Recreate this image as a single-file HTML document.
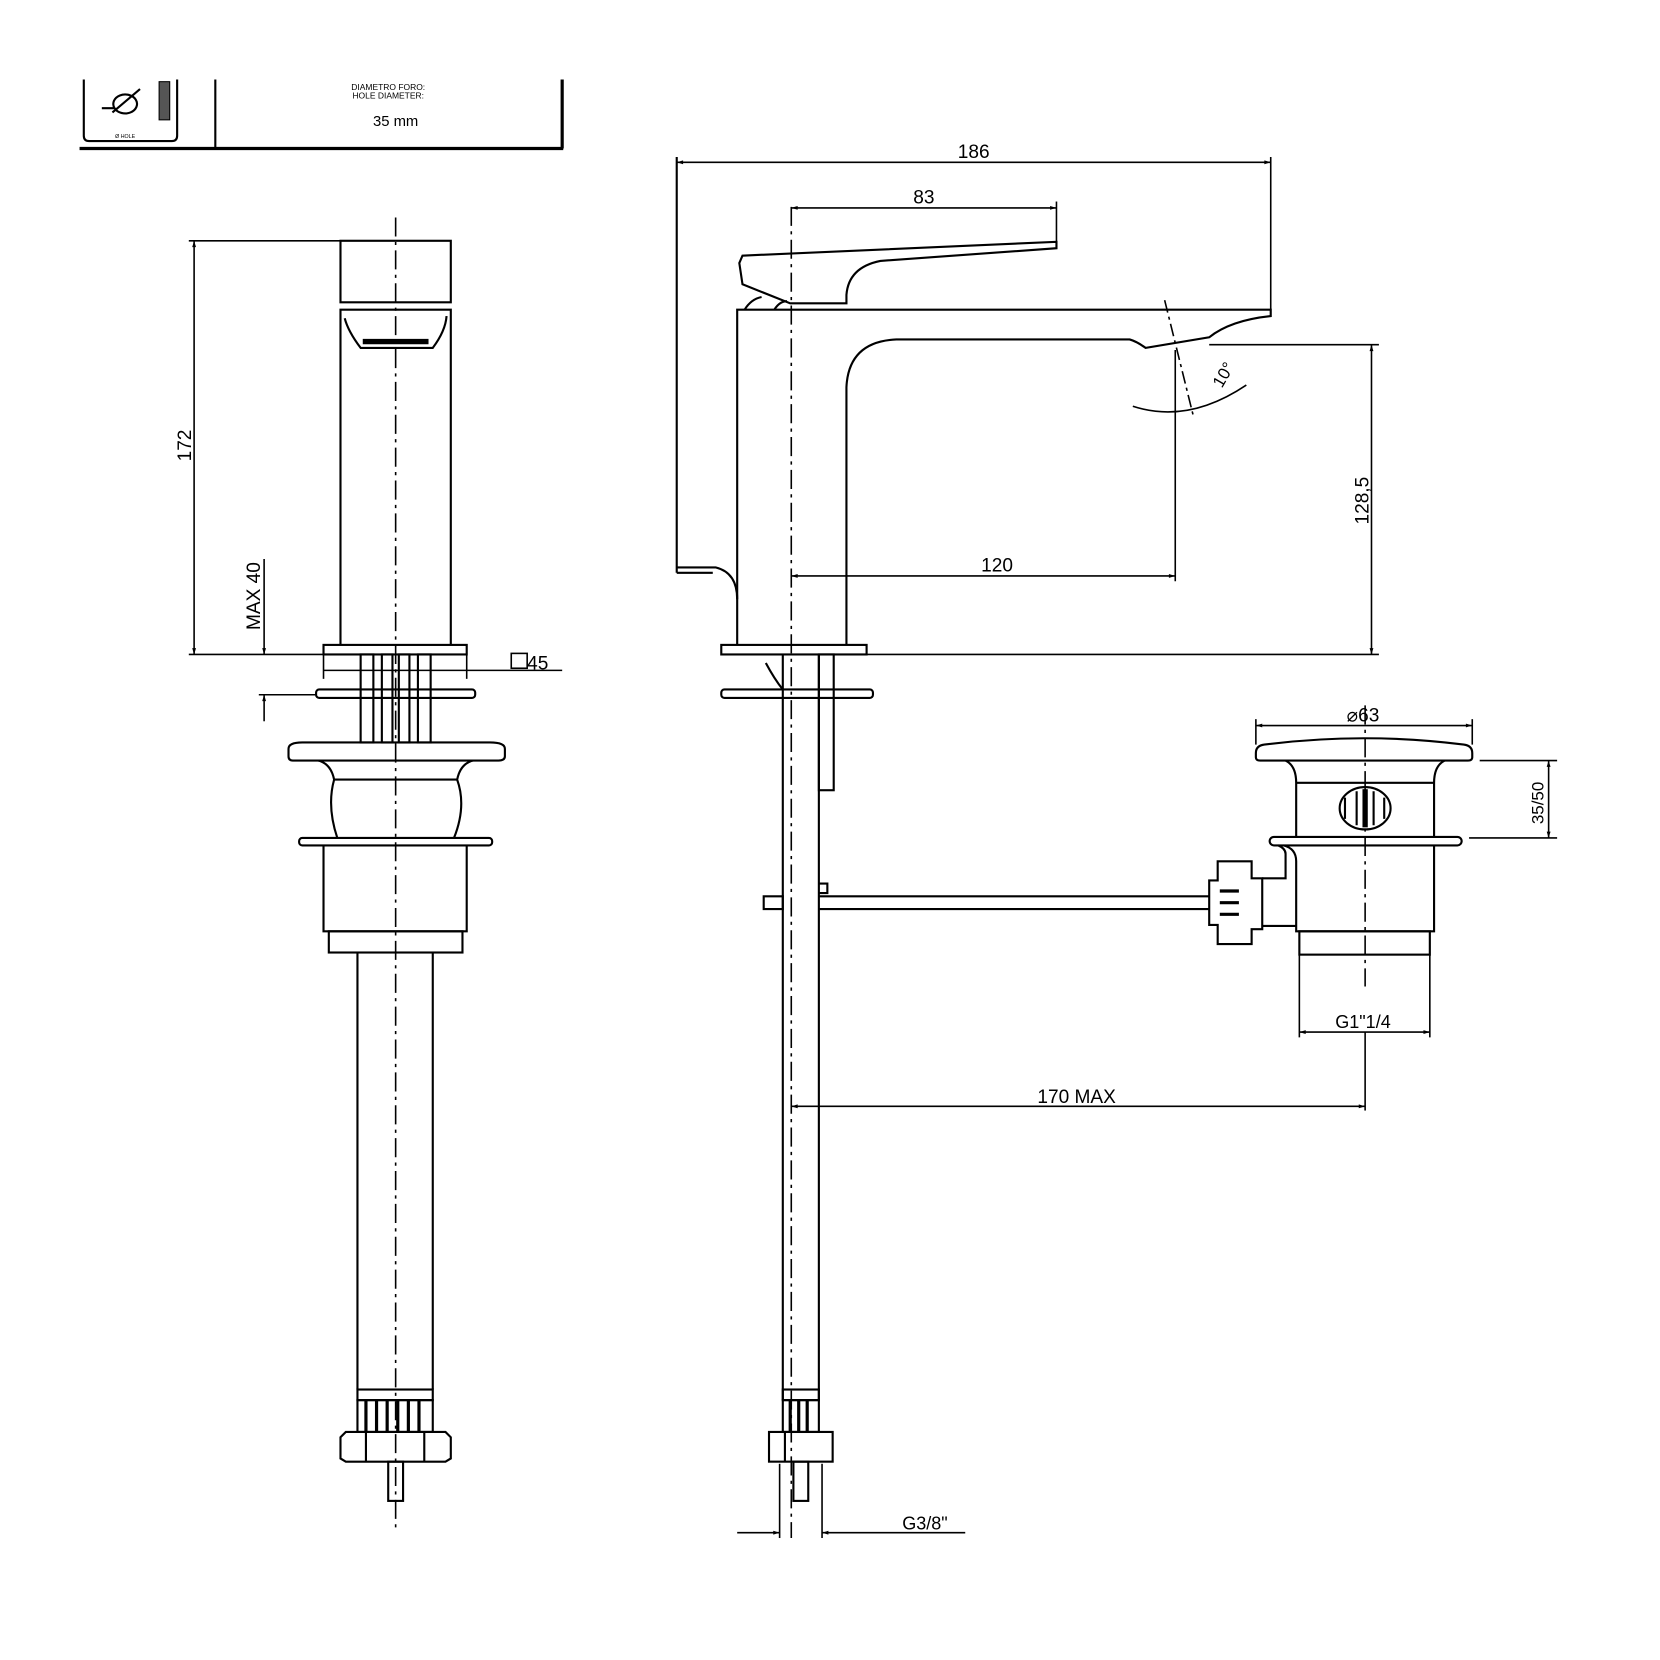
<!DOCTYPE html>
<html><head><meta charset="utf-8"><style>
html,body{margin:0;padding:0;background:#fff;}
svg{display:block;}
text{font-family:"Liberation Sans",sans-serif;fill:#000;}
</style></head><body>
<svg width="1660" height="1660" viewBox="0 0 1565 1565" xmlns="http://www.w3.org/2000/svg">
<defs>
<marker id="a" viewBox="0 0 10 10" refX="10" refY="5" markerWidth="12" markerHeight="6" orient="auto-start-reverse" markerUnits="userSpaceOnUse"><path d="M0,2 L10,5 L0,8 Z" fill="#000"/></marker>
</defs>
<g fill="none" stroke="#000" stroke-width="2">
<!-- title box -->
<path d="M79,75 V128 Q79,133 84,133 H162 Q167,133 167,128 V75"/>
<line x1="203" y1="75" x2="203" y2="140"/>
<line x1="75" y1="140" x2="531" y2="140" stroke-width="3"/>
<line x1="530" y1="75" x2="530" y2="140" stroke-width="3"/>
<rect x="150" y="77" width="10" height="36" fill="#555" stroke-width="1"/>
<path d="M96,102 H108 M108,102 a10,8 0 1 0 20,-8 a10,8 0 1 0 -20,8 M106,106 L132,84" stroke-width="2"/>

<!-- LEFT VIEW -->
<rect x="321" y="227" width="104" height="58"/>
<path d="M321,608 V292 H425 V608"/>
<path d="M325,300 Q328,312 340,328 H408 Q420,312 421,298"/>
<path d="M342,322 H404" stroke-width="5"/>
<rect x="305" y="608" width="135" height="9"/>
<rect x="340" y="617" width="12" height="83"/>
<rect x="360" y="617" width="10" height="83"/>
<rect x="376" y="617" width="10" height="83"/>
<rect x="394" y="617" width="12" height="83"/>
<rect x="298" y="650" width="150" height="8" rx="3"/>
<path d="M272,706 Q272,700 285,700 H462 Q476,700 476,706 V713 Q476,717 470,717 H276 Q272,717 272,713 Z"/>
<path d="M300,717 Q312,720 315,735 Q308,760 318,790 M446,717 Q434,720 431,735 Q440,760 428,790"/>
<line x1="315" y1="735" x2="431" y2="735"/>
<rect x="282" y="790" width="182" height="7" rx="3"/>
<path d="M305,797 V878 H440 V797"/>
<rect x="310" y="878" width="126" height="20"/>
<path d="M337,898 V1310 M408,898 V1310"/>
<rect x="337" y="1310" width="71" height="10"/>
<rect x="337" y="1320" width="71" height="30"/>
<path d="M345,1320 V1350 M355,1320 V1350 M365,1320 V1350 M375,1320 V1350 M385,1320 V1350 M395,1320 V1350" stroke-width="3"/>
<path d="M321,1355 L326,1350 H420 L425,1355 V1375 L420,1378 H326 L321,1375 Z"/>
<line x1="345" y1="1350" x2="345" y2="1378"/><line x1="400" y1="1350" x2="400" y2="1378"/>
<rect x="366" y="1378" width="14" height="37"/>
<line x1="373" y1="205" x2="373" y2="1445" stroke-dasharray="18,5,3,5" stroke-width="1.5"/>
<!-- dims left -->
<line x1="178" y1="227" x2="321" y2="227" stroke-width="1.5"/>
<line x1="178" y1="617" x2="305" y2="617" stroke-width="1.5"/>
<line x1="183" y1="227" x2="183" y2="617" stroke-width="1.5" marker-start="url(#a)" marker-end="url(#a)"/>
<line x1="249" y1="527" x2="249" y2="617" stroke-width="1.5" marker-end="url(#a)"/>
<line x1="249" y1="680" x2="249" y2="655" stroke-width="1.5" marker-end="url(#a)"/>
<line x1="244" y1="655" x2="298" y2="655" stroke-width="1.5"/>
<line x1="305" y1="632" x2="530" y2="632" stroke-width="1.5"/>
<line x1="305" y1="617" x2="305" y2="640" stroke-width="1.5"/><line x1="440" y1="617" x2="440" y2="640" stroke-width="1.5"/>
<rect x="482" y="616" width="15" height="14" stroke-width="1.5"/>

<!-- RIGHT VIEW -->
<path d="M695,608 V292 H1198 V298 Q1160,302 1140,318 L1080,328 Q1072,322 1065,320 H845 Q800,322 798,365 V608"/>
<path d="M697,248 L700,241 L996,228 V234 L830,246 Q800,252 798,278 V286 H745 L700,268 Z"/>
<path d="M702,292 Q708,282 718,280 M730,292 Q735,284 742,284"/>
<path d="M638,148 V540 M638,535 H675 Q695,540 695,565"/>
<path d="M638,540 H672"/>
<rect x="680" y="608" width="137" height="9"/>
<rect x="680" y="650" width="143" height="8" rx="3"/>
<path d="M738,617 V1320 M772,617 V1320"/>
<rect x="772" y="617" width="14" height="128"/>
<path d="M722,625 Q730,640 738,650"/>
<path d="M720,845 H738 V857 H720 Z M772,842 H780 V833 H772"/>
<path d="M772,845 H1140 M772,857 H1140"/>
<path d="M1140,830 H1148 V812 H1180 V828 H1190 V876 H1180 V890 H1148 V872 H1140 Z"/>
<path d="M1150,840 H1168 M1150,851 H1168 M1150,862 H1168" stroke-width="3"/>
<path d="M1190,828 H1212 V805 Q1212,800 1205,797"/>
<line x1="1190" y1="873" x2="1222" y2="873"/>
<rect x="738" y="1310" width="34" height="10"/>
<rect x="738" y="1320" width="34" height="30"/>
<path d="M745,1320 V1350 M753,1320 V1350 M761,1320 V1350" stroke-width="3"/>
<rect x="725" y="1350" width="60" height="28"/>
<line x1="740" y1="1350" x2="740" y2="1378"/>
<rect x="748" y="1378" width="14" height="37"/>
<line x1="746" y1="195" x2="746" y2="1450" stroke-dasharray="18,5,3,5" stroke-width="1.5"/>
<!-- waste -->
<path d="M1184,710 Q1184,703 1192,702 Q1286,690 1380,702 Q1388,703 1388,710 V714 Q1388,717 1384,717 H1188 Q1184,717 1184,714 Z"/>
<path d="M1212,717 Q1222,722 1222,738 V790 M1362,717 Q1352,722 1352,738 V790 M1222,738 H1352"/>
<ellipse cx="1287" cy="762" rx="24" ry="20"/>
<path d="M1279,746 V778 M1295,746 V778 M1268,752 V772 M1305,752 V772" stroke-width="2"/>
<line x1="1287" y1="744" x2="1287" y2="780" stroke-width="5"/>
<rect x="1197" y="789" width="181" height="8" rx="4"/>
<path d="M1210,797 Q1222,800 1222,812 V878 H1352 V797"/>
<rect x="1225" y="878" width="123" height="22"/>
<line x1="1287" y1="665" x2="1287" y2="930" stroke-dasharray="18,5,3,5" stroke-width="1.5"/>
<!-- dims right -->
<line x1="638" y1="153" x2="1198" y2="153" stroke-width="1.5" marker-start="url(#a)" marker-end="url(#a)"/>
<line x1="1198" y1="148" x2="1198" y2="292" stroke-width="1.5"/>
<line x1="746" y1="196" x2="996" y2="196" stroke-width="1.5" marker-start="url(#a)" marker-end="url(#a)"/>
<line x1="996" y1="190" x2="996" y2="228" stroke-width="1.5"/>
<line x1="746" y1="543" x2="1108" y2="543" stroke-width="1.5" marker-start="url(#a)" marker-end="url(#a)"/>
<line x1="1108" y1="330" x2="1108" y2="548" stroke-width="1.5"/>
<line x1="1098" y1="283" x2="1125" y2="392" stroke-width="1.5" stroke-dasharray="12,4,3,4"/>
<path d="M1068,383 Q1120,400 1175,363" stroke-width="1.5"/>
<line x1="1140" y1="325" x2="1300" y2="325" stroke-width="1.5"/>
<line x1="817" y1="617" x2="1300" y2="617" stroke-width="1.5"/>
<line x1="1293" y1="325" x2="1293" y2="617" stroke-width="1.5" marker-start="url(#a)" marker-end="url(#a)"/>
<line x1="1184" y1="684" x2="1388" y2="684" stroke-width="1.5" marker-start="url(#a)" marker-end="url(#a)"/>
<line x1="1184" y1="678" x2="1184" y2="702" stroke-width="1.5"/><line x1="1388" y1="678" x2="1388" y2="702" stroke-width="1.5"/>
<line x1="1395" y1="717" x2="1468" y2="717" stroke-width="1.5"/>
<line x1="1385" y1="790" x2="1468" y2="790" stroke-width="1.5"/>
<line x1="1460" y1="717" x2="1460" y2="790" stroke-width="1.5" marker-start="url(#a)" marker-end="url(#a)"/>
<line x1="1225" y1="900" x2="1225" y2="978" stroke-width="1.5"/><line x1="1348" y1="900" x2="1348" y2="978" stroke-width="1.5"/>
<line x1="1225" y1="973" x2="1348" y2="973" stroke-width="1.5" marker-start="url(#a)" marker-end="url(#a)"/>
<line x1="1287" y1="973" x2="1287" y2="1047" stroke-width="1.5"/>
<line x1="746" y1="1043" x2="1287" y2="1043" stroke-width="1.5" marker-start="url(#a)" marker-end="url(#a)"/>
<line x1="735" y1="1380" x2="735" y2="1450" stroke-width="1.5"/><line x1="775" y1="1380" x2="775" y2="1450" stroke-width="1.5"/>
<line x1="695" y1="1445" x2="735" y2="1445" stroke-width="1.5" marker-end="url(#a)"/>
<line x1="910" y1="1445" x2="775" y2="1445" stroke-width="1.5" marker-end="url(#a)"/>
</g>
<g font-size="18">
<text x="918" y="149" text-anchor="middle">186</text>
<text x="871" y="192" text-anchor="middle">83</text>
<text x="940" y="539" text-anchor="middle">120</text>
<text x="1015" y="1040" text-anchor="middle">170 MAX</text>
<text x="1285" y="969" text-anchor="middle" font-size="17">G1"1/4</text>
<text x="872" y="1442" text-anchor="middle" font-size="17">G3/8"</text>
<text x="1285" y="680" text-anchor="middle">⌀63</text>
<text x="507" y="631" text-anchor="middle">45</text>
<text transform="translate(180,420) rotate(-90)" text-anchor="middle">172</text>
<text transform="translate(245,562) rotate(-90)" text-anchor="middle">MAX 40</text>
<text transform="translate(1290,472) rotate(-90)" text-anchor="middle">128,5</text>
<text transform="translate(1455,757) rotate(-90)" text-anchor="middle" font-size="16">35/50</text>
<text transform="translate(1158,356) rotate(-60)" text-anchor="middle" font-size="16">10°</text>
<text x="366" y="85" text-anchor="middle" font-size="8">DIAMETRO FORO:</text>
<text x="366" y="93" text-anchor="middle" font-size="8">HOLE DIAMETER:</text>
<text x="373" y="119" text-anchor="middle" font-size="14">35 mm</text>
<text x="118" y="130" text-anchor="middle" font-size="5">Ø HOLE</text>
</g>
</svg>
</body></html>
